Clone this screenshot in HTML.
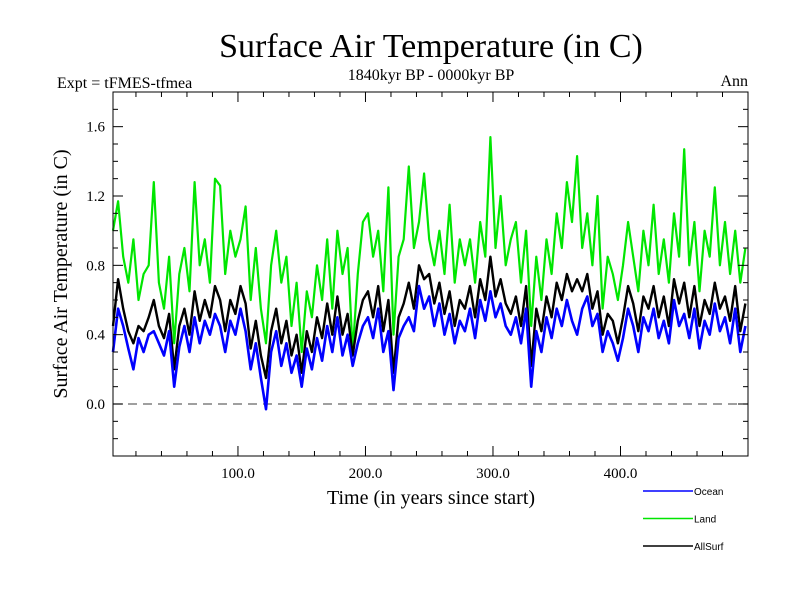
<!DOCTYPE html>
<html><head><meta charset="utf-8"><style>
body{margin:0;background:#fff}
svg{display:block}
text{font-family:"Liberation Serif",serif;fill:#000}
</style></head><body>
<svg id="c" width="800" height="600" viewBox="0 0 800 600">
<text x="431" y="57" font-size="34" text-anchor="middle">Surface Air Temperature (in C)</text>
<text x="431" y="80" font-size="16" text-anchor="middle">1840kyr BP - 0000kyr BP</text>
<text x="57" y="88" font-size="16">Expt = tFMES-tfmea</text>
<text x="748" y="86" font-size="16" text-anchor="end">Ann</text>
<text transform="translate(67,274) rotate(-90)" font-size="20" text-anchor="middle">Surface Air Temperature (in C)</text>
<text x="431" y="504" font-size="20" text-anchor="middle">Time (in years since start)</text>
<g id="plot"></g>
<g id="axes"></g>
<g id="legend"></g>
</svg>
<script>
const years=[];for(let i=0;i<125;i++)years.push(2+4*i);
const ocean=[0.30,0.55,0.45,0.32,0.20,0.38,0.30,0.40,0.42,0.35,
0.28,0.42,0.10,0.33,0.45,0.30,0.50,0.35,0.48,0.40,
0.52,0.45,0.30,0.48,0.40,0.55,0.42,0.20,0.35,0.15,
-0.03,0.30,0.42,0.22,0.35,0.18,0.28,0.10,0.32,0.20,
0.38,0.25,0.45,0.30,0.50,0.28,0.40,0.22,0.35,0.45,
0.50,0.38,0.55,0.30,0.42,0.08,0.38,0.45,0.50,0.42,
0.68,0.55,0.62,0.45,0.58,0.40,0.52,0.35,0.48,0.42,
0.55,0.38,0.60,0.48,0.65,0.50,0.58,0.45,0.40,0.50,
0.35,0.55,0.10,0.42,0.30,0.50,0.38,0.55,0.45,0.60,
0.48,0.40,0.55,0.62,0.45,0.52,0.30,0.42,0.35,0.25,
0.38,0.55,0.45,0.30,0.50,0.42,0.55,0.38,0.48,0.35,
0.60,0.45,0.52,0.38,0.55,0.32,0.48,0.40,0.58,0.42,
0.50,0.35,0.55,0.30,0.45];
const land=[1.00,1.17,0.85,0.70,0.95,0.60,0.75,0.80,1.28,0.70,
0.55,0.85,0.35,0.75,0.90,0.65,1.28,0.80,0.95,0.70,
1.30,1.26,0.75,1.00,0.85,0.95,1.14,0.60,0.90,0.55,
0.35,0.80,1.00,0.70,0.85,0.45,0.70,0.30,0.65,0.50,
0.80,0.60,0.95,0.55,1.00,0.75,0.90,0.30,0.75,1.05,
1.10,0.85,1.00,0.65,1.25,0.40,0.85,0.95,1.37,0.90,
1.05,1.33,0.95,0.80,1.00,0.75,1.15,0.70,0.95,0.80,
0.95,0.70,1.05,0.85,1.54,0.90,1.20,0.80,0.95,1.05,
0.70,1.00,0.45,0.85,0.60,0.95,0.75,1.10,0.90,1.28,
1.05,1.43,0.90,1.10,0.80,1.20,0.55,0.85,0.75,0.60,
0.80,1.05,0.85,0.65,1.00,0.80,1.15,0.75,0.95,0.70,
1.10,0.85,1.47,0.80,1.05,0.65,1.00,0.85,1.25,0.80,
1.05,0.75,1.00,0.70,0.90];
const allsurf=[0.45,0.72,0.55,0.42,0.35,0.45,0.42,0.50,0.60,0.45,
0.38,0.52,0.20,0.45,0.55,0.40,0.65,0.48,0.60,0.50,
0.68,0.60,0.42,0.60,0.52,0.68,0.58,0.32,0.48,0.28,
0.15,0.42,0.55,0.35,0.48,0.28,0.40,0.18,0.42,0.30,
0.50,0.38,0.58,0.40,0.62,0.40,0.52,0.28,0.48,0.60,
0.65,0.50,0.68,0.42,0.60,0.18,0.50,0.58,0.70,0.55,
0.80,0.72,0.75,0.58,0.70,0.52,0.65,0.45,0.60,0.55,
0.68,0.50,0.72,0.60,0.85,0.62,0.72,0.58,0.52,0.62,
0.45,0.68,0.22,0.55,0.42,0.62,0.50,0.70,0.60,0.75,
0.65,0.72,0.65,0.75,0.55,0.65,0.40,0.52,0.48,0.35,
0.50,0.68,0.58,0.42,0.62,0.55,0.68,0.50,0.62,0.45,
0.72,0.58,0.70,0.50,0.68,0.45,0.60,0.52,0.70,0.55,
0.62,0.48,0.68,0.42,0.58];
const yTicks=[0.0,0.4,0.8,1.2,1.6];
const yTickLabels=["0.0","0.4","0.8","1.2","1.6"];
const xTicks=[100,200,300,400];
const xTickLabels=["100.0","200.0","300.0","400.0"];
const seriesNames=["Ocean","Land","AllSurf"];

const NS="http://www.w3.org/2000/svg";
const L=113,R=748,T=92,B=456;
const xMin=2,xMax=500,yMin=-0.3,yMax=1.8;
const xs=v=>L+(v-xMin)/(xMax-xMin)*(R-L);
const ys=v=>B-(v-yMin)/(yMax-yMin)*(B-T);
function mk(tag,attrs,parent){const e=document.createElementNS(NS,tag);for(const k in attrs)e.setAttribute(k,attrs[k]);parent.appendChild(e);return e;}
const plot=document.getElementById('plot'),axes=document.getElementById('axes'),leg=document.getElementById('legend');

const zl=mk('line',{x1:L,x2:R,y1:ys(0),y2:ys(0),stroke:'#666','stroke-width':1.3,'stroke-dasharray':'9,6'},plot);



function drawSeries(vals,color,name,w){
  const d=vals.map((v,i)=>(i?'L':'M')+xs(years[i]).toFixed(1)+' '+ys(v).toFixed(1)).join(' ');
  const p=mk('path',{d:d,fill:'none',stroke:color,'stroke-width':w,'stroke-linejoin':'round'},plot);
  
  
}
drawSeries(land,'#00e600','land-line',2.2);
drawSeries(allsurf,'#000','allsurf-line',2.4);
drawSeries(ocean,'#0000ff','ocean-line',2.6);

const fr=mk('rect',{x:L,y:T,width:R-L,height:B-T,fill:'none',stroke:'#000','stroke-width':1},axes);


for(let v=-0.2;v<=1.75;v+=0.1){
  const major=yTicks.some(t=>Math.abs(t-v)<1e-6);const len=major?10:5;const y=ys(v);
  mk('line',{x1:L,x2:L+len,y1:y,y2:y,stroke:'#000'},axes);
  mk('line',{x1:R,x2:R-len,y1:y,y2:y,stroke:'#000'},axes);
}
yTicks.forEach((t,i)=>{
  const tx=mk('text',{x:L-8,y:ys(t)+5,'font-size':15,'text-anchor':'end'},axes);tx.textContent=yTickLabels[i];
  
  
});
for(let v=20;v<=500;v+=20){
  const major=xTicks.includes(v);const len=major?10:5;const x=xs(v);
  mk('line',{x1:x,x2:x,y1:B,y2:B-len,stroke:'#000'},axes);
  mk('line',{x1:x,x2:x,y1:T,y2:T+len,stroke:'#000'},axes);
}
xTicks.forEach((t,i)=>{
  const tx=mk('text',{x:xs(t),y:B+22,'font-size':15,'text-anchor':'middle'},axes);tx.textContent=xTickLabels[i];
  
  
});
const legColors=['#0000ff','#00e600','#000'];
seriesNames.forEach((n,i)=>{
  const y=491+i*27.5;
  const ln=mk('line',{x1:643,x2:693,y1:y,y2:y,stroke:legColors[i],'stroke-width':1.5},leg);
  
  
  const tx=mk('text',{x:694,y:y+4,'font-size':10,style:'font-family:"Liberation Sans",sans-serif'},leg);tx.textContent=n;
  
  
});
</script>
</body></html>
